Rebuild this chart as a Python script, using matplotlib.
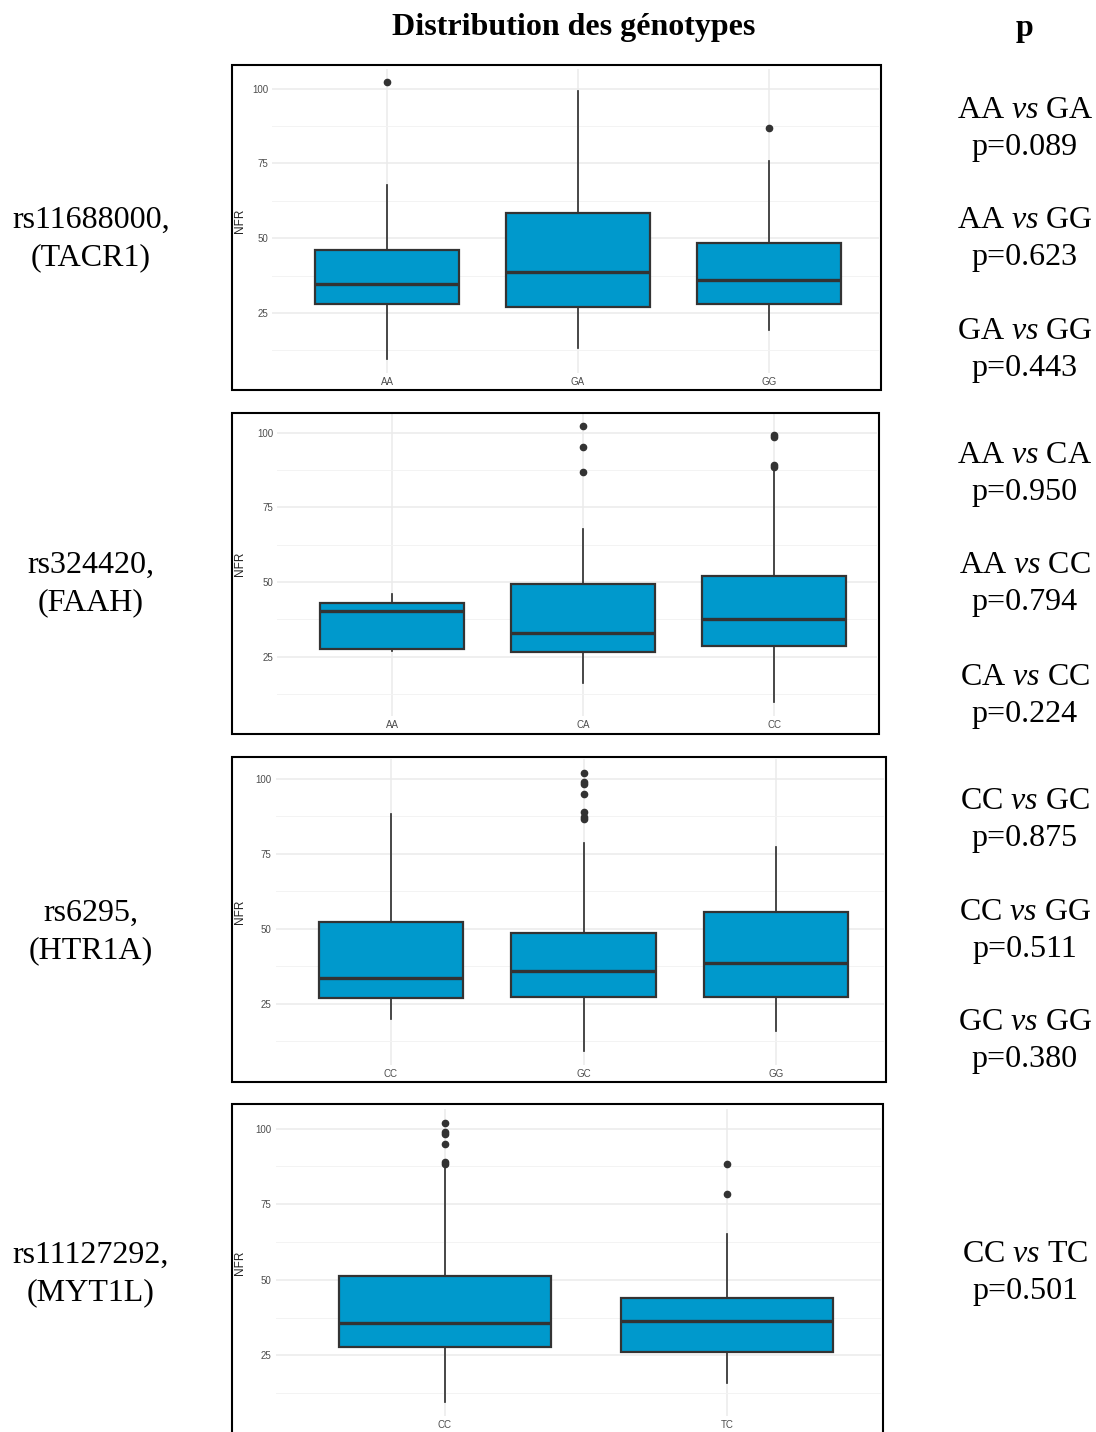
import matplotlib
matplotlib.use("Agg")
import matplotlib.pyplot as plt
from matplotlib.patches import Rectangle

plt.rcParams['mathtext.fontset'] = 'custom'
plt.rcParams['mathtext.rm'] = 'Liberation Serif'
plt.rcParams['mathtext.it'] = 'Liberation Serif:italic'

# --- data ---------------------------------------------------------------
snps = ["rs11688000,", "rs324420,", "rs6295,", "rs11127292,"]
genes = ["(TACR1)", "(FAAH)", "(HTR1A)", "(MYT1L)"]
genotypes = [["AA", "GA", "GG"], ["AA", "CA", "CC"], ["CC", "GC", "GG"], ["CC", "TC"]]

whis_lo = [[9.6, 13.3, 19.2], [27.0, 16.1, 9.7], [19.8, 9.2, 16.0], [9.5, 15.7]]
q1 = [[28.0, 27.1, 28.0], [27.5, 26.7, 28.6], [27.0, 27.2, 27.3], [27.7, 26.0]]
med = [[34.6, 38.7, 36.0], [40.2, 32.9, 37.7], [33.4, 35.9, 38.4], [35.8, 36.3]]
q3 = [[45.9, 58.6, 48.4], [43.1, 49.3, 52.0], [52.3, 48.4, 55.4], [51.4, 44.0]]
whis_hi = [[67.9, 99.1, 75.7], [46.0, 67.9, 87.5], [88.2, 78.4, 77.1], [86.9, 65.2]]
outliers = [
    [[102.1], [], [86.9]],
    [[], [102.2, 95.1, 86.7], [99.2, 98.5, 89.1, 88.5]],
    [[], [102.0, 99.0, 98.3, 95.0, 88.9, 87.1, 86.6], []],
    [[102.0, 99.0, 98.3, 94.8, 89.0, 88.3], [88.3, 78.5]],
]

comparisons = [
    [("AA", "GA"), ("AA", "GG"), ("GA", "GG")],
    [("AA", "CA"), ("AA", "CC"), ("CA", "CC")],
    [("CC", "GC"), ("CC", "GG"), ("GC", "GG")],
    [("CC", "TC")],
]
p_values = [["0.089", "0.623", "0.443"], ["0.950", "0.794", "0.224"],
            ["0.875", "0.511", "0.380"], ["0.501"]]

# --- layout (pixels) -----------------------------------------------------
W, H = 1096, 1432
frames = [(232, 65, 881, 390), (232, 413, 879, 734), (232, 757, 886, 1082), (232, 1104, 883, 1440)]
cat1_px = [387, 392, 391, 445]
spacing_px = [191, 191, 192.5, 282]
right_px = [879, 877, 884, 881]
y100_px = [88.7, 432.7, 778.7, 1128.7]
y25_px = [313.0, 656.7, 1003.7, 1355.3]
label_base = [228, 573, 921, 1263]
p_base = [[118, 228, 339], [463, 573, 685], [809, 920, 1030], [1262]]

fill = '#0099CC'
dark = '#333333'
serif = 'Liberation Serif'

fig = plt.figure(figsize=(W / 100, H / 100), dpi=100)
fig.patch.set_facecolor('white')


def fx(x):
    return x / W


def fy(y):
    return 1 - y / H


fig.text(fx(574), fy(35), "Distribution des génotypes", ha='center', va='baseline',
         fontsize=23, fontweight='bold', family=serif)
fig.text(fx(1025), fy(36), "p", ha='center', va='baseline',
         fontsize=23, fontweight='bold', family=serif)

for i in range(4):
    n = len(genotypes[i])
    stats = []
    for j in range(n):
        stats.append(dict(med=med[i][j], q1=q1[i][j], q3=q3[i][j],
                          whislo=whis_lo[i][j], whishi=whis_hi[i][j],
                          fliers=outliers[i][j], label=genotypes[i][j]))
    allv = [v for j in range(n) for v in [whis_lo[i][j], whis_hi[i][j]] + outliers[i][j]]
    lo, hi = min(allv), max(allv)
    pad = 0.05 * (hi - lo)
    lo, hi = lo - pad, hi + pad

    scale = (y25_px[i] - y100_px[i]) / 75.0
    top = y100_px[i] - (hi - 100) * scale
    bottom = y25_px[i] + (25 - lo) * scale
    left = cat1_px[i] - 0.6 * spacing_px[i]
    right = right_px[i]
    ax = fig.add_axes([fx(left), fy(bottom), (right - left) / W, (bottom - top) / H])

    ax.bxp(stats, positions=range(1, n + 1), widths=0.75, patch_artist=True,
           showcaps=False,
           boxprops=dict(facecolor=fill, edgecolor=dark, linewidth=1.6),
           medianprops=dict(color=dark, linewidth=2.4),
           whiskerprops=dict(color=dark, linewidth=1.25),
           flierprops=dict(marker='o', markerfacecolor=dark, markeredgecolor=dark,
                           markersize=4.5))
    ax.set_xlim(0.4, 0.4 + (right - left) / spacing_px[i])
    ax.set_ylim(lo, hi)
    ax.set_yticks([25, 50, 75, 100])
    ax.set_yticks([12.5, 37.5, 62.5, 87.5], minor=True)
    ax.set_xticks(range(1, n + 1))
    ax.set_xticklabels(genotypes[i])
    ax.grid(which='major', color='#ebebeb', linewidth=1.1)
    ax.grid(which='minor', axis='y', color='#f3f3f3', linewidth=0.7)
    ax.set_axisbelow(True)
    for s in ax.spines.values():
        s.set_visible(False)
    ax.tick_params(which='both', length=0, labelsize=7, labelcolor='#4d4d4d', pad=3)
    for t in ax.get_xticklabels() + ax.get_yticklabels():
        t.set_family('Liberation Sans')

    fig.text(fx(240), fy((top + bottom) / 2), "NFR", rotation=90, ha='center', va='center',
             fontsize=8.5, color='#222222', family='Liberation Sans')

    x0, y0, x1, y1 = frames[i]
    fig.patches.append(Rectangle((fx(x0), fy(y1)), (x1 - x0) / W, (y1 - y0) / H,
                                 transform=fig.transFigure, fill=False,
                                 edgecolor='black', linewidth=1.5, zorder=10))

    fig.text(fx(91), fy(label_base[i]), snps[i], ha='center', va='baseline',
             fontsize=23, family=serif)
    fig.text(fx(91), fy(label_base[i] + 37), genes[i], ha='center', va='baseline',
             fontsize=23, family=serif)

    for k, (a, b) in enumerate(comparisons[i]):
        yb = p_base[i][k]
        fig.text(fx(1025), fy(yb), a + " $\\mathit{vs}$ " + b, ha='center', va='baseline',
                 fontsize=23, family=serif)
        fig.text(fx(1025), fy(yb + 37), "p=" + p_values[i][k], ha='center', va='baseline',
                 fontsize=23, family=serif)

fig.savefig("out.png", dpi=100)
